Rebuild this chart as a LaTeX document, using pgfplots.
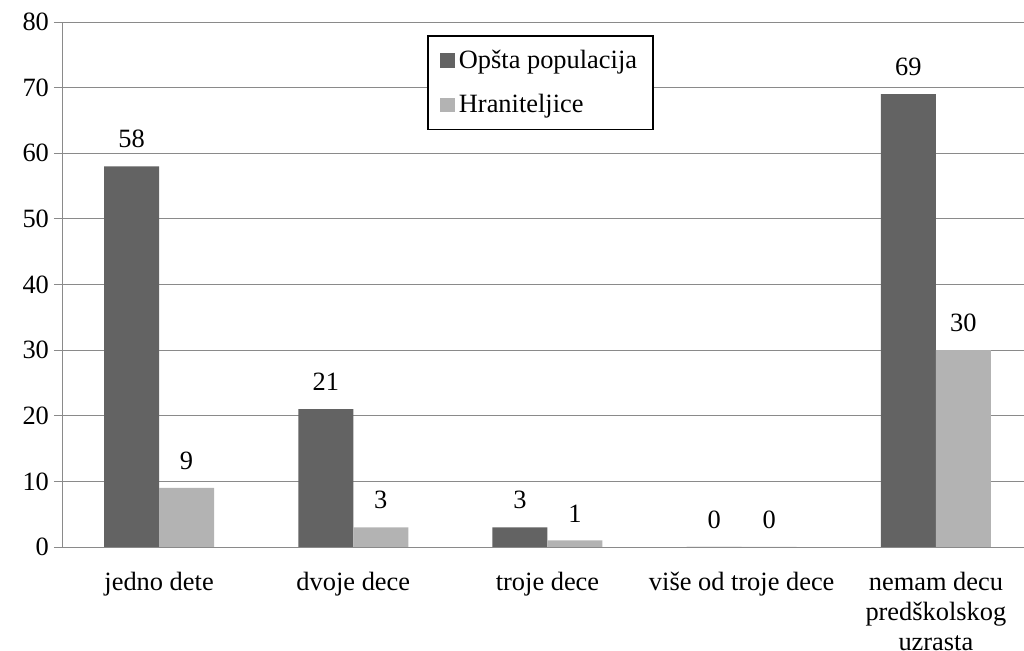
\documentclass[border=0pt]{standalone}
\usepackage{fontspec}
\setmainfont{Liberation Serif}
\usepackage{pgfplots}
\pgfplotsset{compat=1.18}
\definecolor{darkbar}{HTML}{636363}
\definecolor{lightbar}{HTML}{B3B3B3}
\definecolor{gridc}{HTML}{8A8A8A}

\begin{document}
\begin{tikzpicture}
% image frame: 1024x651 px at 0.5pt per px
\clip (0,0) rectangle (512pt,-325.5pt);
\begin{axis}[
  at={(31pt,-273.5pt)}, anchor=south west,
  scale only axis, width=485.5pt, height=262.5pt,
  ybar=0pt, bar width=27.5pt,
  xmin=-0.5, xmax=4.5, ymin=0, ymax=80,
  ytick distance=10,
  xtick={0,1,2,3,4},
  xticklabels={jedno dete, dvoje dece, troje dece, više od troje dece, {nemam decu\\predškolskog\\uzrasta}},
  xticklabel style={align=center, font=\fontsize{13.2}{15}\selectfont, yshift=-5pt},
  major x tick style={draw=none},
  extra x ticks={-0.5,0.5,1.5,2.5,3.5},
  extra x tick labels={},
  extra x tick style={major tick length=4pt, tick align=outside, tick style={gridc, thin}, grid=none},
  axis x line*=bottom, axis y line*=left,
  axis line style={gridc, -},
  ymajorgrids, grid style={gridc, thin},
  ytick style={gridc, thin}, tick align=outside, major tick length=4pt,
  yticklabel style={font=\fontsize{13.2}{15}\selectfont, xshift=1pt},
  /pgf/number format/assume math mode=true,
  nodes near coords,
  every node near coord/.append style={font=\fontsize{13.2}{15}\selectfont, inner sep=0pt, yshift=9pt, anchor=south},
  legend style={at={(0.376,0.975)}, anchor=north west, draw=black, line width=0.8pt,
    font=\fontsize{13.2}{15}\selectfont, row sep=7.5pt, inner xsep=6pt, inner ysep=5pt},
  legend cell align=left,
  legend image code/.code={\fill[#1] (0pt,-3.7pt) rectangle (7.5pt,3.7pt);},
]
\addplot[fill=darkbar, draw=none] coordinates {(0,58) (1,21) (2,3) (3,0) (4,69)};
\addlegendentry{Opšta populacija}
\addplot[fill=lightbar, draw=none] coordinates {(0,9) (1,3) (2,1) (3,0) (4,30)};
\addlegendentry{Hraniteljice}
\end{axis}
\end{tikzpicture}
\end{document}
